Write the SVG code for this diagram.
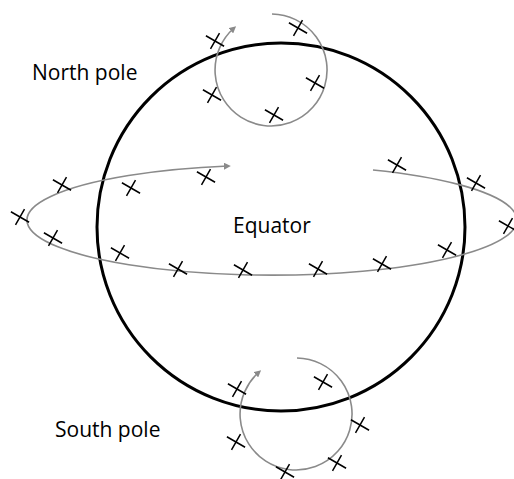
<svg xmlns="http://www.w3.org/2000/svg" xmlns:xlink="http://www.w3.org/1999/xlink" width="514" height="479" viewBox="0 0 514 479">
<style>
.orbit{fill:none;stroke:#8a8a8a;stroke-width:1.6}
.globe{fill:none;stroke:#000;stroke-width:3}
.mark{fill:none;stroke:#000;stroke-width:1.5}
.lbl{font-family:"Open Sans","Liberation Sans",sans-serif;font-size:21px;fill:#000}
</style>
<defs>
<marker id="ah" viewBox="0 0 10 10" refX="6" refY="5" markerWidth="7" markerHeight="7" markerUnits="userSpaceOnUse" orient="auto">
<path d="M0,0L10,5L0,10z" fill="#8a8a8a"/>
</marker>
<path id="x" class="mark" d="M-10.5,0H10.5M0,-9V9" transform="rotate(30)"/>
</defs>
<rect width="514" height="479" fill="#fff"/>
<g id="globe">
<circle class="globe" cx="281" cy="227" r="184"/>
</g>
<g id="connectors">
<path id="equator-orbit" class="orbit" d="M373,170 A245,55 0 1 1 228,166" marker-end="url(#ah)"/>
<path id="north-orbit" class="orbit" d="M272,14 A56,56 0 1 1 234,28" marker-end="url(#ah)"/>
<path id="south-orbit" class="orbit" d="M297,358 A56,56 0 1 1 259,372" marker-end="url(#ah)"/>
</g>
<g id="north-marks">
<use xlink:href="#x" x="215" y="41"/>
<use xlink:href="#x" x="298" y="28"/>
<use xlink:href="#x" x="315" y="83"/>
<use xlink:href="#x" x="212" y="95"/>
<use xlink:href="#x" x="274" y="115"/>
</g>
<g id="equator-marks">
<use xlink:href="#x" x="62" y="185"/>
<use xlink:href="#x" x="20" y="217"/>
<use xlink:href="#x" x="53" y="238"/>
<use xlink:href="#x" x="131" y="188"/>
<use xlink:href="#x" x="206" y="177"/>
<use xlink:href="#x" x="120" y="253"/>
<use xlink:href="#x" x="178" y="269"/>
<use xlink:href="#x" x="243" y="270"/>
<use xlink:href="#x" x="318" y="269"/>
<use xlink:href="#x" x="382" y="264"/>
<use xlink:href="#x" x="447" y="250"/>
<use xlink:href="#x" x="397" y="165"/>
<use xlink:href="#x" x="476" y="183"/>
<use xlink:href="#x" x="508" y="226"/>
</g>
<g id="south-marks">
<use xlink:href="#x" x="237" y="389"/>
<use xlink:href="#x" x="323" y="382"/>
<use xlink:href="#x" x="360" y="425"/>
<use xlink:href="#x" x="236" y="442"/>
<use xlink:href="#x" x="337" y="463"/>
<use xlink:href="#x" x="285" y="472"/>
</g>
<g id="north-label"><text class="lbl" x="32" y="80">North pole</text></g>
<g id="equator-label"><text class="lbl" x="233" y="233">Equator</text></g>
<g id="south-label"><text class="lbl" x="55" y="437">South pole</text></g>
</svg>
